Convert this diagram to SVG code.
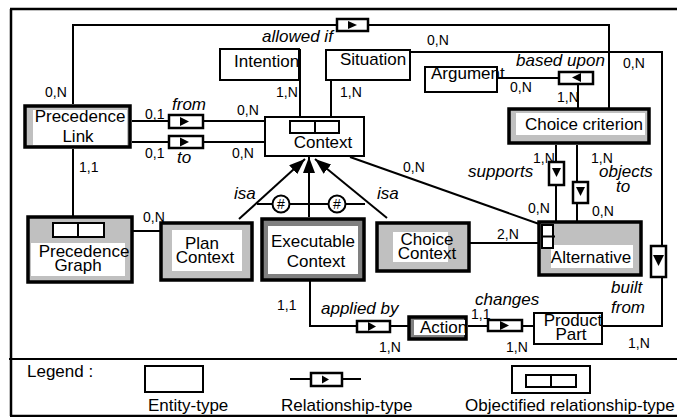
<svg xmlns="http://www.w3.org/2000/svg" width="677" height="417" viewBox="0 0 677 417">
<defs>
<style>
text{font-family:"Liberation Sans",Arial,sans-serif;fill:#000}
.lbl{font-size:17px}
.it{font-size:17px;font-style:italic}
.card{font-size:14px}
.ent{fill:#fff;stroke:#000;stroke-width:2}
.entG{fill:#c0c0c0;stroke:#000;stroke-width:3.5}
.entD{fill:#808080;stroke:#000;stroke-width:3.5}
.inner{fill:#fff;stroke:none}
.rel{fill:#fff;stroke:#000;stroke-width:2.5}
.ln{fill:none;stroke:#000;stroke-width:2}
.tri{fill:#000;stroke:none}
.frame{fill:none;stroke:#000;stroke-width:2.5}
</style>
<marker id="arr" viewBox="0 0 16 12" refX="16" refY="6" markerWidth="16" markerHeight="12" markerUnits="userSpaceOnUse" orient="auto">
<path d="M0,0 L16,6 L0,12 z" fill="#000"/>
</marker>
</defs>

<g id="frame">
<line class="frame" x1="10" y1="9" x2="677" y2="9"/>
<line class="frame" x1="11" y1="9" x2="11" y2="416"/>
<line class="frame" x1="10" y1="416" x2="677" y2="416"/>
<line class="ln" x1="9" y1="359" x2="677" y2="359"/>
</g>

<g id="connectors">
<!-- allowed if -->
<path class="ln" d="M73,104 V25 H337"/>
<path class="ln" d="M368,25 H609 V109"/>
<rect class="rel" x="337" y="19" width="31" height="12"/>
<path class="tri" d="M348,21 L357,25 L348,29 z"/>
<text class="it" x="262" y="42">allowed if</text>
<!-- situation to built from -->
<path class="ln" d="M410,52 H662 V246"/>
<path class="ln" d="M662,277 V326 H602"/>
<rect class="rel" x="651" y="246" width="15" height="31"/>
<path class="tri" d="M653,255 L664,255 L658.5,266 z"/>
<text class="it" x="611" y="293">built</text>
<text class="it" x="611" y="313">from</text>
<!-- based upon -->
<path class="ln" d="M497,78 H559"/>
<path class="ln" d="M578,84 V109"/>
<rect class="rel" x="559" y="72" width="34" height="12"/>
<path class="tri" d="M581,73 L581,82 L572,77.5 z"/>
<text class="it" x="516" y="66">based upon</text>
<!-- from / to -->
<path class="ln" d="M132,121 H169 M203,121 H265"/>
<rect class="rel" x="169" y="115" width="34" height="13"/>
<path class="tri" d="M180,117 L189,121.5 L180,126 z"/>
<text class="it" x="172" y="110">from</text>
<path class="ln" d="M132,142 H169 M203,142 H265"/>
<rect class="rel" x="169" y="136" width="34" height="12"/>
<path class="tri" d="M180,137.5 L189,142 L180,146.5 z"/>
<text class="it" x="177" y="163">to</text>
<!-- intention / situation to context -->
<path class="ln" d="M300,49 V121"/>
<path class="ln" d="M331,80 V121"/>
<!-- precedence link to graph -->
<path class="ln" d="M73,149 V223"/>
<path class="ln" d="M104,231 H161"/>
<!-- context to alternative -->
<path class="ln" d="M350,157 L542,225"/>
<path class="ln" d="M470,243 H542"/>
<!-- supports / objects to -->
<path class="ln" d="M556,145 V162 M556,185 V222"/>
<rect class="rel" x="549" y="162" width="15" height="23"/>
<path class="tri" d="M552,168 L561,168 L556.5,177 z"/>
<text class="it" x="468" y="177">supports</text>
<path class="ln" d="M577,145 V182 M577,203 V222"/>
<rect class="rel" x="573" y="182" width="15" height="21"/>
<path class="tri" d="M576,187 L585,187 L580.5,196 z"/>
<text class="it" x="599" y="177">objects</text>
<text class="it" x="616" y="192">to</text>
<!-- applied by -->
<path class="ln" d="M310,281 V326 H357 M390,326 H409"/>
<rect class="rel" x="357" y="321" width="33" height="11"/>
<path class="tri" d="M368,322 L376,326.5 L368,331 z"/>
<text class="it" x="321" y="314">applied by</text>
<!-- changes -->
<path class="ln" d="M468,326 H488 M522,326 H534"/>
<rect class="rel" x="488" y="320" width="34" height="11"/>
<path class="tri" d="M500,321 L509,325.5 L500,330 z"/>
<text class="it" x="475" y="305">changes</text>
<!-- isa -->
<path class="ln" d="M239,219 L305,159" marker-end="url(#arr)"/>
<path class="ln" d="M309,217 V157" marker-end="url(#arr)"/>
<path class="ln" d="M387,218 L315,159" marker-end="url(#arr)"/>
<path class="ln" d="M257,204 H365"/>
<circle cx="281" cy="204" r="8.5" fill="#fff" stroke="#000" stroke-width="2"/>
<circle cx="337" cy="204" r="8.5" fill="#fff" stroke="#000" stroke-width="2"/>
<text class="card" x="281" y="209" text-anchor="middle">#</text>
<text class="card" x="337" y="209" text-anchor="middle">#</text>
<text class="it" x="234" y="199">isa</text>
<text class="it" x="377" y="199">isa</text>
<!-- cardinalities -->
<text class="card" x="45" y="97">0,N</text>
<text class="card" x="276" y="97">1,N</text>
<text class="card" x="340" y="97">1,N</text>
<text class="card" x="145" y="119">0,1</text>
<text class="card" x="237" y="115">0,N</text>
<text class="card" x="145" y="158">0,1</text>
<text class="card" x="232" y="158">0,N</text>
<text class="card" x="79" y="172">1,1</text>
<text class="card" x="427" y="45">0,N</text>
<text class="card" x="623" y="68">0,N</text>
<text class="card" x="510" y="92">0,N</text>
<text class="card" x="557" y="102">1,N</text>
<text class="card" x="533" y="163">1,N</text>
<text class="card" x="591" y="163">1,N</text>
<text class="card" x="403" y="172">0,N</text>
<text class="card" x="528" y="213">0,N</text>
<text class="card" x="592" y="216">0,N</text>
<text class="card" x="143" y="222">0,N</text>
<text class="card" x="497" y="239">2,N</text>
<text class="card" x="277" y="310">1,1</text>
<text class="card" x="471" y="319">1,1</text>
<text class="card" x="379" y="352">1,N</text>
<text class="card" x="506" y="352">1,N</text>
<text class="card" x="628" y="348">1,N</text>
</g>

<g id="intention">
<rect class="ent" x="220" y="49" width="79" height="31"/>
<text class="lbl" x="234" y="67">Intention</text>
</g>
<g id="situation">
<rect class="ent" x="326" y="50" width="84" height="30" stroke-width="2.5"/>
<text class="lbl" x="340" y="65">Situation</text>
</g>
<g id="argument">
<rect class="ent" x="425" y="67" width="72" height="25"/>
<text class="lbl" x="431" y="79">Argument</text>
</g>
<g id="context">
<rect class="ent" x="265" y="117" width="99" height="39"/>
<rect class="ent" x="290" y="121" width="49" height="12"/>
<line class="ln" x1="315" y1="121" x2="315" y2="133"/>
<text class="lbl" x="323" y="148" text-anchor="middle">Context</text>
</g>
<g id="precedence-link">
<rect class="entG" x="25" y="106" width="105" height="41"/>
<rect class="inner" x="33" y="110" width="94" height="35"/>
<text class="lbl" x="80" y="122" text-anchor="middle">Precedence</text>
<text class="lbl" x="78" y="142" text-anchor="middle">Link</text>
</g>
<g id="choice-criterion">
<rect class="entG" x="509" y="109" width="140" height="34"/>
<rect class="inner" x="516" y="113" width="129" height="22"/>
<text class="lbl" x="584" y="130" text-anchor="middle">Choice criterion</text>
</g>
<g id="precedence-graph">
<rect class="entG" x="28" y="217" width="104" height="65"/>
<rect class="inner" x="31" y="243" width="94" height="33"/>
<rect class="ent" x="53" y="223" width="51" height="14"/>
<line class="ln" x1="78" y1="223" x2="78" y2="237"/>
<text class="lbl" x="84" y="257" text-anchor="middle">Precedence</text>
<text class="lbl" x="78" y="271" text-anchor="middle">Graph</text>
</g>
<g id="plan-context">
<rect class="entG" x="161" y="223" width="91" height="57"/>
<rect class="inner" x="172" y="230" width="70" height="41"/>
<text class="lbl" x="202" y="249" text-anchor="middle">Plan</text>
<text class="lbl" x="205" y="263" text-anchor="middle">Context</text>
</g>
<g id="executable-context">
<rect class="entD" x="262" y="219" width="102" height="61"/>
<rect class="inner" x="268" y="226" width="90" height="48"/>
<text class="lbl" x="313" y="247" text-anchor="middle">Executable</text>
<text class="lbl" x="316" y="267" text-anchor="middle">Context</text>
</g>
<g id="choice-context">
<rect class="entG" x="377" y="223" width="92" height="48"/>
<rect class="inner" x="393" y="232" width="55" height="30"/>
<text class="lbl" x="427" y="245" text-anchor="middle">Choice</text>
<text class="lbl" x="427" y="259" text-anchor="middle">Context</text>
</g>
<g id="alternative">
<rect class="entG" x="539" y="222" width="102" height="53"/>
<rect class="inner" x="551" y="245" width="82" height="23"/>
<rect class="ent" x="542" y="225" width="11" height="23"/>
<line class="ln" x1="542" y1="236.5" x2="555" y2="236.5"/>
<text class="lbl" x="591" y="263" text-anchor="middle">Alternative</text>
</g>
<g id="action">
<rect class="entD" x="409" y="317" width="57" height="22"/>
<rect class="inner" x="414" y="320" width="51" height="15"/>
<text class="lbl" x="420" y="333">Action</text>
</g>
<g id="product-part">
<rect class="ent" x="534" y="313" width="68" height="31"/>
<text class="lbl" x="573" y="326" text-anchor="middle">Product</text>
<text class="lbl" x="571" y="340" text-anchor="middle">Part</text>
</g>

<g id="legend">
<text class="lbl" x="27" y="377">Legend :</text>
<rect class="ent" x="145" y="366" width="58" height="26"/>
<text class="lbl" x="148" y="411">Entity-type</text>
<path class="ln" d="M290,379 H311 M342,379 H361"/>
<rect class="rel" x="311" y="373" width="31" height="13"/>
<path class="tri" d="M322,375.5 L329,379.5 L322,383.5 z"/>
<text class="lbl" x="281" y="411">Relationship-type</text>
<rect class="ent" x="512" y="366" width="78" height="27"/>
<rect class="ent" x="526" y="375" width="50" height="12"/>
<line class="ln" x1="551" y1="375" x2="551" y2="388"/>
<text class="lbl" x="465" y="411">Objectified relationship-type</text>
</g>
</svg>
